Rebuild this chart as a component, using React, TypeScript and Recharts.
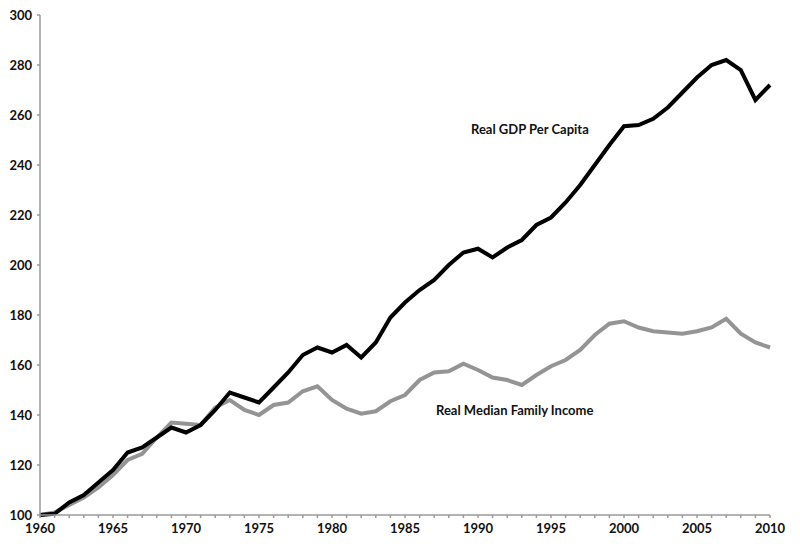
import { LineChart, Line, XAxis, YAxis } from "recharts";

const years = [
  1960, 1961, 1962, 1963, 1964, 1965, 1966, 1967, 1968, 1969,
  1970, 1971, 1972, 1973, 1974, 1975, 1976, 1977, 1978, 1979,
  1980, 1981, 1982, 1983, 1984, 1985, 1986, 1987, 1988, 1989,
  1990, 1991, 1992, 1993, 1994, 1995, 1996, 1997, 1998, 1999,
  2000, 2001, 2002, 2003, 2004, 2005, 2006, 2007, 2008, 2009, 2010,
];

const gdpPerCapita = [
  100, 100.5, 105, 108, 113, 118, 125, 127, 131, 135,
  133, 136, 142, 149, 147, 145, 151, 157, 164, 167,
  165, 168, 163, 169, 179, 185, 190, 194, 200, 205,
  206.5, 203, 207, 210, 216, 219, 225, 232, 240, 248,
  255.5, 256, 258.5, 263, 269, 275, 280, 282, 278, 266, 272,
];

const medianFamilyIncome = [
  100, 101, 104, 107, 111, 116, 122, 124.5, 131, 137,
  136.5, 136, 143, 146, 142, 140, 144, 145, 149.5, 151.5,
  146, 142.5, 140.5, 141.5, 145.5, 148, 154, 157, 157.5, 160.5,
  158, 155, 154, 152, 156, 159.5, 162, 166, 172, 176.5,
  177.5, 175, 173.5, 173, 172.5, 173.5, 175, 178.5, 172.5, 169, 167,
];

const yTicks = [100, 120, 140, 160, 180, 200, 220, 240, 260, 280, 300];

const data = years.map((year, i) => ({
  year,
  gdp: gdpPerCapita[i],
  income: medianFamilyIncome[i],
}));

const tickStyle = {
  fontFamily: "Lato, sans-serif",
  fontWeight: 700,
  fontSize: 13,
  fill: "#111",
};

const labelStyle: React.CSSProperties = {
  position: "absolute",
  fontFamily: "Lato, sans-serif",
  fontWeight: 700,
  fontSize: 13,
  color: "#111",
  whiteSpace: "nowrap",
};

export default function App() {
  return (
    <div style={{ position: "relative", width: 800, height: 544, background: "#fff" }}>
      <style>{`body{margin:0}`}</style>
      <LineChart
        width={800}
        height={544}
        data={data}
        margin={{ top: 15, right: 30, bottom: 0, left: 0 }}
      >
        <XAxis
          dataKey="year"
          type="number"
          domain={[1960, 2010]}
          ticks={years}
          interval={0}
          height={29}
          tickFormatter={(v: number) => (v % 5 === 0 ? String(v) : "")}
          tick={tickStyle}
          tickSize={3}
          tickMargin={6}
          stroke="#9a9a9a"
          strokeWidth={1.5}
          tickLine={{ stroke: "#9a9a9a" }}
        />
        <YAxis
          type="number"
          domain={[100, 300]}
          ticks={yTicks}
          interval={0}
          width={40}
          tick={tickStyle}
          tickSize={3}
          tickMargin={5}
          stroke="#9a9a9a"
          strokeWidth={1.5}
          tickLine={{ stroke: "#9a9a9a" }}
        />
        <Line
          dataKey="income"
          stroke="#949494"
          strokeWidth={4}
          dot={false}
          isAnimationActive={false}
        />
        <Line
          dataKey="gdp"
          stroke="#000"
          strokeWidth={4}
          dot={false}
          isAnimationActive={false}
        />
      </LineChart>
      <div style={{ ...labelStyle, left: 471, top: 121 }}>Real GDP Per Capita</div>
      <div style={{ ...labelStyle, left: 436, top: 402 }}>Real Median Family Income</div>
    </div>
  );
}
